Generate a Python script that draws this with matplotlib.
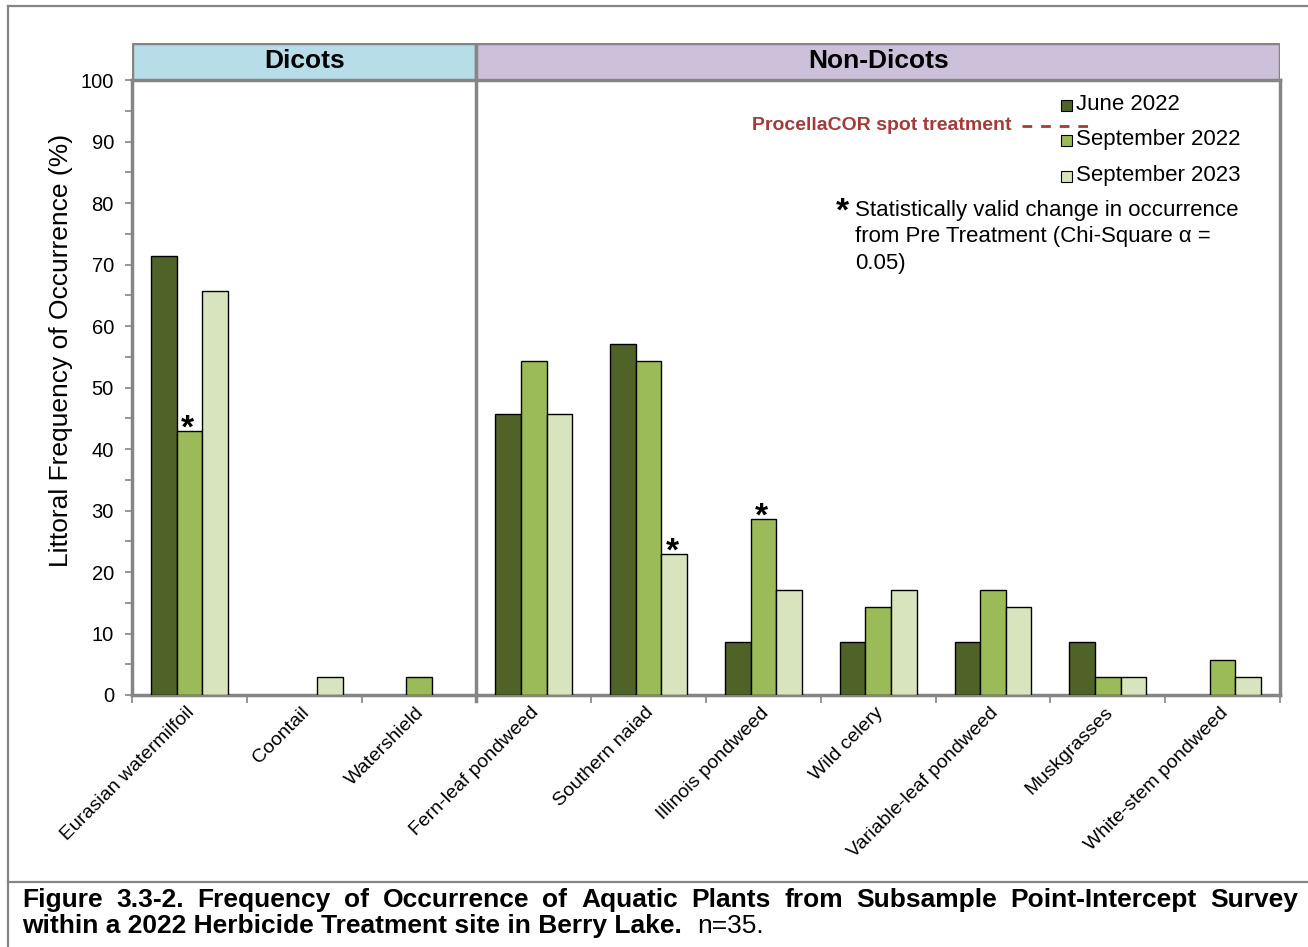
import matplotlib.pyplot as plt
import numpy as np
from matplotlib.patches import Rectangle
from matplotlib.lines import Line2D

plt.rcParams['font.family'] = ['Liberation Sans', 'DejaVu Sans']

# Plant frequency of occurrence (%), n=35 sample points
species = ['Eurasian watermilfoil', 'Coontail', 'Watershield', 'Fern-leaf pondweed',
           'Southern naiad', 'Illinois pondweed', 'Wild celery', 'Variable-leaf pondweed',
           'Muskgrasses', 'White-stem pondweed']
june_2022 = [71.4, 0, 0, 45.7, 57.1, 8.6, 8.6, 8.6, 8.6, 0]
sept_2022 = [42.9, 0, 2.9, 54.3, 54.3, 28.6, 14.3, 17.1, 2.9, 5.7]
sept_2023 = [65.7, 2.9, 0, 45.7, 22.9, 17.1, 17.1, 14.3, 2.9, 2.9]
series_labels = ['June 2022', 'September 2022', 'September 2023']
series_colors = ['#4F6228', '#9BBB59', '#D7E4BD']

# significant changes: (species index, series index)
significant = [(0, 1), (4, 2), (5, 1)]

n_dicots = 3
groups = ['Dicots', 'Non-Dicots']
group_colors = ['#B7DEE8', '#CCC0DA']

W, H = 1308, 947
fig = plt.figure(figsize=(W / 100, H / 100), dpi=100)

def fx(px):
    return px / W

def fy(py):
    return 1 - py / H

gray = '#858585'

# outer frame: top, left side, and the line above the caption
for xs, ys in [((8, 1310), (6, 6)), ((8, 8), (6, 950)), ((8, 1310), (882, 882))]:
    fig.add_artist(Line2D([fx(v) for v in xs], [fy(v) for v in ys],
                          transform=fig.transFigure, color=gray, lw=1.6))

ax = fig.add_axes([fx(132), fy(695), fx(1280) - fx(132), fy(80) - fy(695)])
x = np.arange(len(species)) + 0.5
bw = 0.223
all_series = [june_2022, sept_2022, sept_2023]
for k, (vals, col) in enumerate(zip(all_series, series_colors)):
    edges = ['black' if v > 0 else 'none' for v in vals]
    ax.bar(x + (k - 1) * bw, vals, bw, color=col, edgecolor=edges, linewidth=1.0, zorder=3)

for i, k in significant:
    ax.annotate('*', (x[i] + (k - 1) * bw, all_series[k][i]), xytext=(-2, -6),
                textcoords='offset pixels', ha='center', va='baseline',
                fontsize=24, fontweight='bold')

ax.set_xlim(0, len(species))
ax.set_ylim(0, 100)
ax.set_yticks(np.arange(0, 101, 10))
ax.set_yticks(np.arange(0, 101, 5), minor=True)
ax.set_xticks(np.arange(0, len(species) + 1))
ax.set_xticklabels([])
ax.tick_params(axis='y', which='both', direction='out', color=gray, width=1.2, labelsize=14.5, pad=8)
ax.tick_params(axis='y', which='major', length=5)
ax.tick_params(axis='y', which='minor', length=5)
ax.tick_params(axis='x', direction='out', color=gray, width=1.2, length=6)
for s in ax.spines.values():
    s.set_color(gray)
    s.set_linewidth(2.5)
ax.axvline(n_dicots, color=gray, lw=2.5, zorder=4)
ax.plot([n_dicots, n_dicots], [0, -1], color=gray, lw=2.5, clip_on=False)

for xi, name in zip(x, species):
    ax.text(xi - 0.03, -1.5, name, rotation=45, ha='right', va='top', fontsize=14,
            rotation_mode='anchor')

ax.set_ylabel('Littoral Frequency of Occurrence (%)', fontsize=19)
ax.yaxis.set_label_coords(-0.051, 0.56)

# group header strip
hax = fig.add_axes([fx(132), fy(80), fx(1280) - fx(132), fy(43) - fy(80)])
hax.set_xlim(0, len(species))
hax.set_ylim(0, 1)
bounds = [0, n_dicots, len(species)]
for g, col, a, b in zip(groups, group_colors, bounds[:-1], bounds[1:]):
    hax.add_patch(Rectangle((a, 0), b - a, 1, fc=col, ec=gray, lw=2.5))
    hax.text((a + b) / 2, 0.5, g, ha='center', va='center', fontsize=19, fontweight='bold')
hax.set_axis_off()

# legend
for j, (lab, col) in enumerate(zip(series_labels, series_colors)):
    yy = [105, 140, 176][j]
    fig.add_artist(Rectangle((fx(1061), fy(yy + 6)), fx(11), fy(0) - fy(11),
                             transform=fig.transFigure, fc=col, ec='black', lw=0.8))
    fig.text(fx(1076), fy(yy), lab, ha='left', va='center', fontsize=16)

fig.text(fx(1012), fy(125), 'ProcellaCOR spot treatment', ha='right', va='center',
         fontsize=14, fontweight='bold', color='#A33B3B')
fig.add_artist(Line2D([fx(1022), fx(1094)], [fy(126), fy(126)], transform=fig.transFigure,
                      color='#A33B3B', lw=2, linestyle=(0, (3.5, 3.2))))

fig.text(fx(842), fy(212), '*', ha='center', va='center', fontsize=24, fontweight='bold')
fig.text(fx(855), fy(200), 'Statistically valid change in occurrence\nfrom Pre Treatment (Chi-Square \u03b1 =\n0.05)',
         ha='left', va='top', fontsize=16, linespacing=1.33)

# caption, justified on the first line
line1 = 'Figure 3.3-2. Frequency of Occurrence of Aquatic Plants from Subsample Point-Intercept Survey'
words = line1.split(' ')
fig.canvas.draw()
renderer = fig.canvas.get_renderer()
cap_kw = dict(fontsize=19, fontweight='bold', va='baseline')
objs = [fig.text(0, fy(907), w, ha='left', **cap_kw) for w in words]
widths = [o.get_window_extent(renderer).width for o in objs]
left, right = 22, 1298
gap = (right - left - sum(widths)) / (len(words) - 1)
pos = left
for o, w in zip(objs, widths):
    o.set_x(fx(pos))
    pos += w + gap

t2 = fig.text(fx(22), fy(933), 'within a 2022 Herbicide Treatment site in Berry Lake.', ha='left', **cap_kw)
w2 = t2.get_window_extent(renderer).width
fig.text(fx(22 + w2 + 15), fy(933), 'n=35.', ha='left', va='baseline', fontsize=19)

fig.savefig('out.png', dpi=100)
